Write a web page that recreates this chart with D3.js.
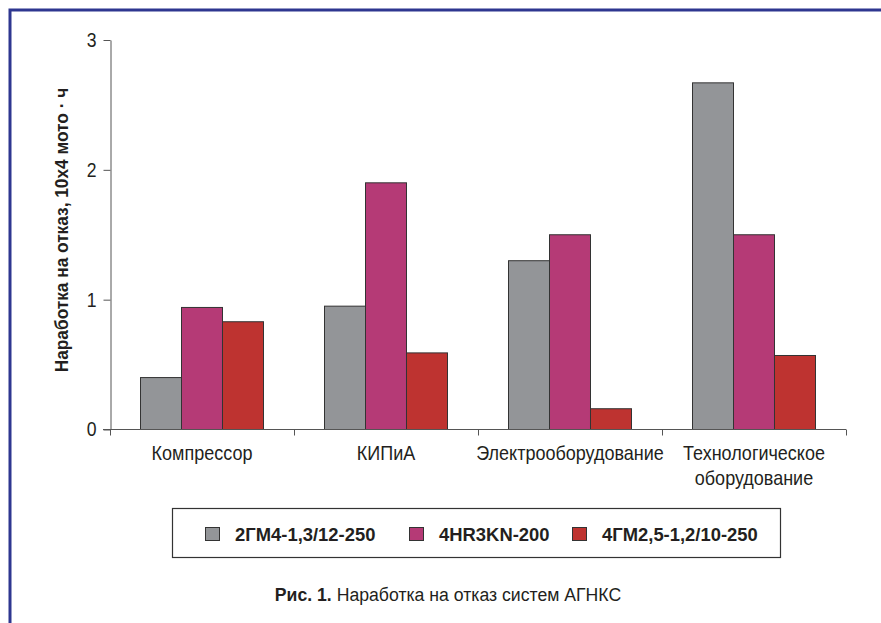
<!DOCTYPE html>
<html><head><meta charset="utf-8">
<script src="https://cdn.jsdelivr.net/npm/d3@7"></script>
<style>
body{margin:0;background:#fff;}
text{font-family:"Liberation Sans",Arial,sans-serif;fill:#231f20;}
</style>
</head><body>
<svg id="c" width="881" height="623"></svg>
<script>
// ---- data ----
const categories = ["Компрессор", "КИПиА", "Электрооборудование", "Технологическое оборудование"];
const categoryLines = [["Компрессор"], ["КИПиА"], ["Электрооборудование"], ["Технологическое", "оборудование"]];
const seriesNames = ["2ГМ4-1,3/12-250", "4HR3KN-200", "4ГМ2,5-1,2/10-250"];
const values2GM = [0.40, 0.95, 1.30, 2.67];
const values4HR = [0.94, 1.90, 1.50, 1.50];
const values4GM = [0.83, 0.59, 0.16, 0.57];
const seriesColors = ["#939598", "#b53a76", "#be3330"];
const yTicks = [0, 1, 2, 3];
const yTitle = "Наработка на отказ, 10х4 мото · ч";
const captionBold = "Рис. 1.";
const captionText = " Наработка на отказ систем АГНКС";

const seriesValues = [values2GM, values4HR, values4GM];

const svg = d3.select("#c");

// condensed text helper (horizontal compression to mimic a condensed face)
function ctext(parent, x, y, sx, rot) {
  const g = parent.append("g").attr("transform", `translate(${x},${y})` + (rot ? ` rotate(${rot})` : "") + ` scale(${sx},1)`);
  return g.append("text").attr("x", 0).attr("y", 0);
}

// page frame
svg.append("path").attr("d", "M10,623V10H881").attr("fill", "none")
  .attr("stroke", "#2e3790").attr("stroke-width", 3);

const y = d3.scaleLinear().domain([0, 3]).range([429.5, 40]);
const x0 = d3.scaleBand().domain(categories).range([110, 846]);
const x1 = d3.scaleBand().domain(seriesNames).range([0, x0.bandwidth()]).paddingInner(0).paddingOuter(0.744);

// bars
const g = svg.append("g");
categories.forEach((c, i) => {
  seriesNames.forEach((s, j) => {
    g.append("rect")
      .attr("x", x0(c) + x1(s))
      .attr("y", y(seriesValues[j][i]))
      .attr("width", x1.bandwidth())
      .attr("height", y(0) - y(seriesValues[j][i]))
      .attr("fill", seriesColors[j])
      .attr("stroke", "#333")
      .attr("stroke-width", 1);
  });
});

// y axis
const yAxis = svg.append("g").attr("transform", "translate(110.5,0)")
  .call(d3.axisLeft(y).tickValues(yTicks).tickSize(7).tickSizeOuter(0).tickPadding(9).tickFormat(d3.format("d")));
yAxis.selectAll("path,line").attr("stroke", "#555");
yAxis.selectAll("text").attr("font-size", 20).style("font-family", '"Liberation Sans",Arial,sans-serif')
  .attr("fill", "#231f20").attr("transform", "scale(0.88,1)");

// x axis
const xBoundaries = categories.map(c => x0(c)).concat([x0.range()[1]]);
svg.append("line").attr("x1", 103).attr("x2", x0.range()[1]).attr("y1", y(0)).attr("y2", y(0)).attr("stroke", "#555");
svg.selectAll(".xt").data(xBoundaries).enter().append("line")
  .attr("x1", d => d + 0.5).attr("x2", d => d + 0.5).attr("y1", y(0)).attr("y2", y(0) + 6).attr("stroke", "#555");

// category labels
categories.forEach((c, i) => {
  const t = ctext(svg, x0(c) + x0.bandwidth() / 2, 460, 0.9).attr("text-anchor", "middle").attr("font-size", 20);
  categoryLines[i].forEach((ln, k) => {
    t.append("tspan").attr("x", 0).attr("dy", k === 0 ? 0 : 25).text(ln);
  });
});

// y title
ctext(svg, 68, 230, 0.96, -90).attr("text-anchor", "middle").attr("font-size", 18)
  .attr("font-weight", "bold").text(yTitle);

// legend
svg.append("rect").attr("x", 172.5).attr("y", 508.5).attr("width", 608).attr("height", 49)
  .attr("fill", "none").attr("stroke", "#333").attr("stroke-width", 1.2);
const legX = [205, 409, 572];
seriesNames.forEach((s, j) => {
  svg.append("rect").attr("x", legX[j] + 0.5).attr("y", 527.5).attr("width", 14).attr("height", 13)
    .attr("fill", seriesColors[j]).attr("stroke", "#333").attr("stroke-width", 1);
  ctext(svg, legX[j] + 30, 541, 0.97).attr("font-size", 19).attr("font-weight", "bold").text(s);
});

// caption
const cap = ctext(svg, 448, 601, 0.93).attr("text-anchor", "middle").attr("font-size", 19);
cap.append("tspan").attr("font-weight", "bold").text(captionBold);
cap.append("tspan").text(captionText);
</script>
</body></html>
